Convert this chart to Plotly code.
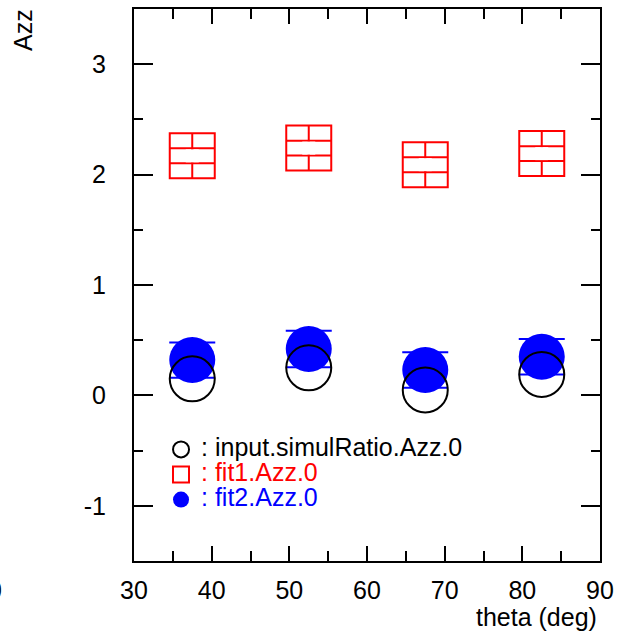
import plotly.graph_objects as go

# ---- data ----
theta = [37.5, 52.5, 67.5, 82.5]
input_azz = [0.15, 0.25, 0.05, 0.19]
fit1_azz = [2.17, 2.24, 2.09, 2.19]
fit2_azz = [0.32, 0.42, 0.23, 0.35]
fit2_err = [0.16, 0.165, 0.16, 0.16]
x_ticks = [30, 40, 50, 60, 70, 80, 90]
y_ticks = [-1, 0, 1, 2, 3]

# ---- layout geometry ----
W, H = 629, 635
ML, MR, MT, MB = 134, 29, 7, 74
YR = [-1.5, 3.5]
XR = [30, 90]
px_per_unit = (H - MT - MB) / (YR[1] - YR[0])

FONT = "Liberation Sans, Arial, Helvetica, sans-serif"
FS = 25

BRICK = 45  # marker size in px
brick_half = (BRICK / 2) / px_per_unit
brick_sixth = (BRICK / 6) / px_per_unit

fig = go.Figure()

# fit1: "brick" marker built from a square + caps + split vertical line
fig.add_trace(go.Scatter(
    x=theta, y=fit1_azz, mode="markers",
    name="<span style='color:red;font-size:25px'>: fit1.Azz.0</span>", legendrank=2,
    marker=dict(symbol="square-open", size=BRICK, color="red", line=dict(width=2, color="red")),
    error_y=dict(type="data", array=[brick_sixth] * len(theta), width=BRICK / 2,
                 color="red", thickness=2),
))
fig.add_trace(go.Scatter(
    x=theta, y=fit1_azz, mode="markers", showlegend=False, hoverinfo="skip",
    marker=dict(symbol="square", size=13, color="white", line=dict(width=0)),
    error_y=dict(type="data", array=[brick_half] * len(theta), width=0,
                 color="red", thickness=2),
))

# fit2: filled blue circles with error bars
fig.add_trace(go.Scatter(
    x=theta, y=fit2_azz, mode="markers",
    name="<span style='color:blue;font-size:25px'>: fit2.Azz.0</span>", legendrank=3,
    marker=dict(symbol="circle", size=46, color="blue", line=dict(width=0)),
    error_y=dict(type="data", array=fit2_err, width=23, color="blue", thickness=2),
))

# input: open black circles
fig.add_trace(go.Scatter(
    x=theta, y=input_azz, mode="markers",
    name="<span style='color:black;font-size:25px'>: input.simulRatio.Azz.0</span>", legendrank=1,
    marker=dict(symbol="circle-open", size=45, color="black", line=dict(width=2, color="black")),
))

axis_common = dict(
    showgrid=False, zeroline=False, showline=True, linecolor="black", linewidth=2,
    mirror="ticks", ticks="inside", tickcolor="black", tickwidth=1.5,
    tickfont=dict(family=FONT, size=FS, color="black"),
)

fig.update_layout(
    width=W, height=H,
    margin=dict(l=ML, r=MR, t=MT, b=MB, pad=0),
    paper_bgcolor="white", plot_bgcolor="white",
    font=dict(family=FONT, size=FS, color="black"),
    xaxis=dict(range=XR, tickvals=x_ticks, ticktext=[str(v) for v in x_ticks],
               ticklen=15, ticklabelstandoff=6,
               minor=dict(ticks="inside", dtick=5, ticklen=10, tickcolor="black", tickwidth=1.5),
               **axis_common),
    yaxis=dict(range=YR, tickvals=y_ticks, ticktext=[str(v) for v in y_ticks],
               ticklen=19, ticklabelstandoff=21,
               minor=dict(ticks="inside", dtick=0.5, ticklen=9, tickcolor="black", tickwidth=1.5),
               **axis_common),
    showlegend=True,
    legend=dict(x=0.058, y=0.234, xanchor="left", yanchor="top",
                bgcolor="rgba(0,0,0,0)", borderwidth=0, tracegroupgap=0,
                font=dict(family=FONT, size=17), itemsizing="trace"),
    annotations=[
        dict(text="Azz", textangle=-90, xref="paper", yref="paper",
             x=(23 - ML) / (W - ML - MR), y=1 - (28 - MT) / (H - MT - MB),
             xanchor="center", yanchor="middle", showarrow=False,
             font=dict(family=FONT, size=FS)),
        dict(text="theta (deg)", xref="paper", yref="paper",
             x=1 - (600 - 599) / (W - ML - MR), y=-(617 - (H - MB)) / (H - MT - MB),
             xanchor="right", yanchor="middle", showarrow=False,
             font=dict(family=FONT, size=FS)),
        dict(text="0", xref="paper", yref="paper",
             x=(4 - ML) / (W - ML - MR), y=-(590 - (H - MB)) / (H - MT - MB),
             xanchor="right", yanchor="middle", showarrow=False,
             font=dict(family=FONT, size=FS)),
    ],
)

fig.write_html("out.html", config={"displayModeBar": False},
               post_script="document.body.style.margin='0';document.body.style.padding='0';")
